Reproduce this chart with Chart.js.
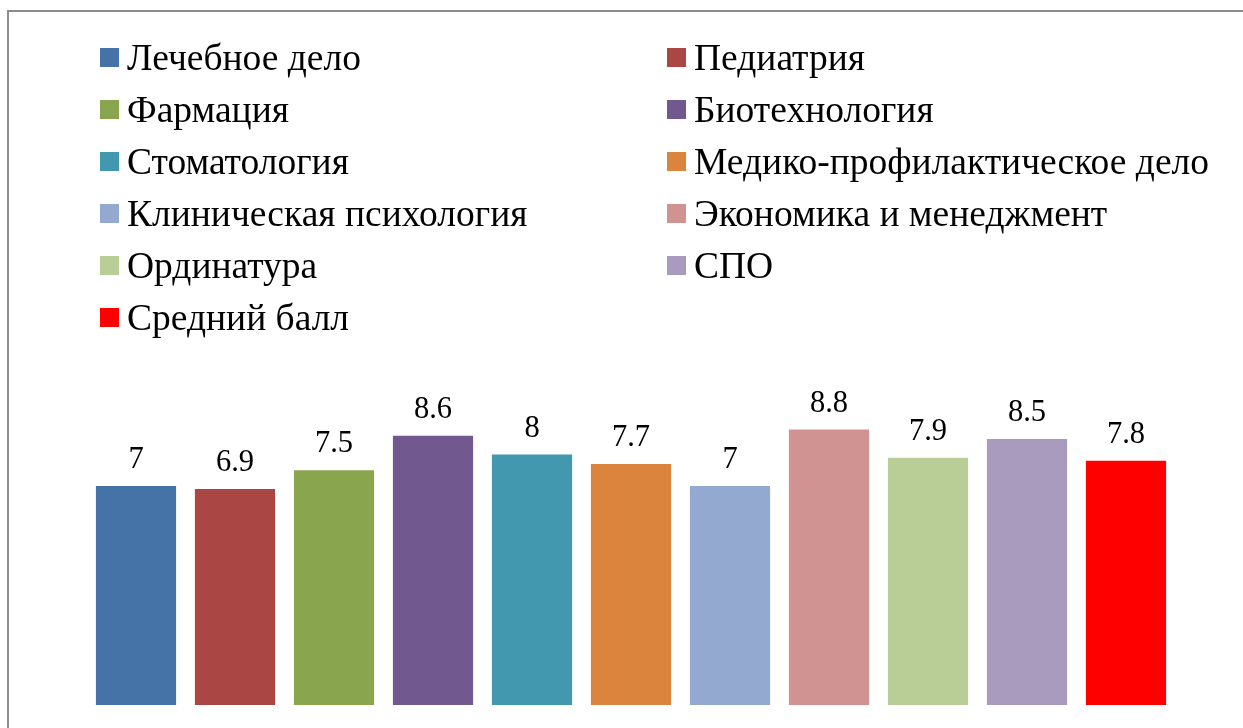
<!DOCTYPE html>
<html>
<head>
<meta charset="utf-8">
<script src="https://cdn.jsdelivr.net/npm/chart.js@4/dist/chart.umd.min.js"></script>
<style>
    html, body { margin: 0; padding: 0; background: #fff; overflow: hidden; }
    #wrap { position: relative; width: 1243px; height: 728px; }
    #frame {
        position: absolute; left: 7px; top: 10px; width: 1300px; height: 800px;
        border-left: 2px solid #8e8e8e; border-top: 2px solid #8e8e8e;
        box-sizing: border-box;
    }
    #chart { position: absolute; left: 0; top: 0; }
    #legend {
        position: absolute; left: 100px; top: 31px; width: 1140px;
        display: grid; grid-template-columns: 567px auto; grid-auto-rows: 52px;
        font-family: "Liberation Serif", "Times New Roman", serif; font-size: 37.5px; color: #000;
    }
    .item { display: flex; align-items: center; white-space: nowrap; }
    .box { width: 19px; height: 19px; margin-right: 8px; flex: none; }
</style>
</head>
<body>
<div id="wrap">
    <div id="frame"></div>
    <canvas id="chart" width="1243" height="728"></canvas>
    <div id="legend"></div>
</div>
<script>
const programs = ['Лечебное дело', 'Педиатрия', 'Фармация', 'Биотехнология', 'Стоматология',
    'Медико-профилактическое дело', 'Клиническая психология', 'Экономика и менеджмент',
    'Ординатура', 'СПО', 'Средний балл'];
const scores = [7, 6.9, 7.5, 8.6, 8, 7.7, 7, 8.8, 7.9, 8.5, 7.8];
const colors = ['#4572A7', '#AA4643', '#89A54E', '#71588F', '#4198AF', '#DB843D',
    '#93A9CF', '#D19392', '#B9CD96', '#A99BBD', '#FF0000'];

// one dataset per program so each one gets its own legend entry
const datasets = programs.map((name, i) => ({
    label: name,
    data: [scores[i]],
    backgroundColor: colors[i],
    borderWidth: 0
}));

const valueLabels = {
    id: 'valueLabels',
    afterDatasetsDraw(chart) {
        const ctx = chart.ctx;
        ctx.save();
        ctx.font = '30.5px "Liberation Serif", "Times New Roman", serif';
        ctx.fillStyle = '#000';
        ctx.textAlign = 'center';
        ctx.textBaseline = 'alphabetic';
        chart.data.datasets.forEach((ds, i) => {
            const bar = chart.getDatasetMeta(i).data[0];
            ctx.fillText(String(ds.data[0]), bar.x, bar.y - 18);
        });
        ctx.restore();
    }
};

const chart = new Chart(document.getElementById('chart').getContext('2d'), {
    type: 'bar',
    data: { labels: [''], datasets: datasets },
    options: {
        responsive: false,
        animation: false,
        layout: { padding: { left: 86.5, right: 67.5, top: 392, bottom: 23 } },
        datasets: { bar: { categoryPercentage: 1, barPercentage: 0.81 } },
        scales: {
            x: { display: false },
            y: { display: false, min: 0, max: 10 }
        },
        plugins: {
            legend: { display: false },
            tooltip: { enabled: false }
        }
    },
    plugins: [valueLabels]
});

// legend in two columns, built from the chart's own legend items
const legendBox = document.getElementById('legend');
chart.options.plugins.legend.labels.generateLabels(chart).forEach(item => {
    const row = document.createElement('div');
    row.className = 'item';
    const box = document.createElement('span');
    box.className = 'box';
    box.style.background = item.fillStyle;
    const text = document.createElement('span');
    text.textContent = item.text;
    row.appendChild(box);
    row.appendChild(text);
    legendBox.appendChild(row);
});
</script>
</body>
</html>
